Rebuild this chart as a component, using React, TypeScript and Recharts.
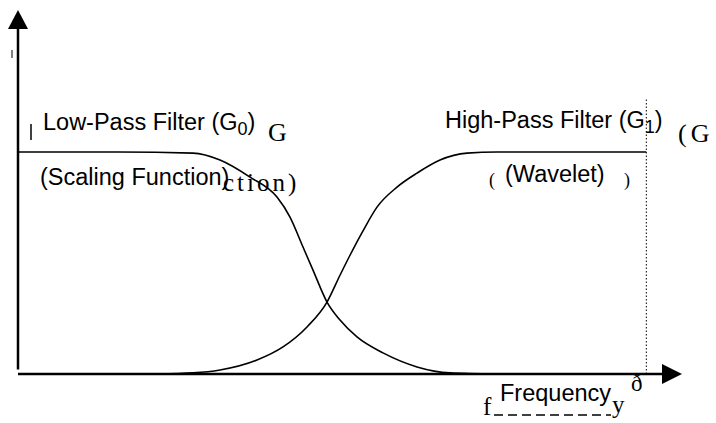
import React from 'react';
import { LineChart, Line, XAxis, YAxis, ReferenceLine, ReferenceDot } from 'recharts';

// normalised frequency (π = Nyquist) and filter gain
const lowFreq = [0, 0.5, 0.875, 1.01, 1.16, 1.295, 1.36, 1.425, 1.475, 1.545, 1.61, 1.695, 1.825, 1.995, 2.16, 2.395];
const lowGain = [1, 1, 0.995, 0.964, 0.887, 0.797, 0.707, 0.572, 0.468, 0.324, 0.243, 0.167, 0.095, 0.032, 0.005, 0];

const highFreq = [0.695, 0.875, 1.01, 1.195, 1.325, 1.445, 1.545, 1.61, 1.66, 1.725, 1.795, 1.895, 1.995, 2.11, 2.245, 2.395, 3.1416];
const highGain = [0, 0.005, 0.018, 0.063, 0.122, 0.212, 0.324, 0.445, 0.535, 0.645, 0.752, 0.842, 0.905, 0.964, 0.995, 1, 1];

const X_MAX = 3.32;
const Y_MAX = 1.64;
const NYQUIST = Math.PI;
const CUTOFF_TOP = 1.24;

const lowPass = lowFreq.map((f, i) => ({ f, g: lowGain[i] }));
const highPass = highFreq.map((f, i) => ({ f, g: highGain[i] }));

const SANS = '"Liberation Sans", Arial, sans-serif';
const SERIF = '"Liberation Serif", "Times New Roman", serif';

const UpArrow = ({ cx, cy }: any) => (
  <polygon points={`${cx},${cy} ${cx - 10},${cy + 19} ${cx + 10},${cy + 19}`} fill="#000" />
);
const RightArrow = ({ cx, cy }: any) => (
  <polygon points={`${cx},${cy} ${cx - 20},${cy - 10} ${cx - 20},${cy + 10}`} fill="#000" />
);

export default function App() {
  return (
    <div style={{ position: 'absolute', left: 0, top: 0, width: 716, height: 423, background: '#fff' }}>
      <LineChart width={716} height={423} margin={{ top: 10, right: 34, bottom: 49, left: 18 }}>
        <XAxis type="number" dataKey="f" domain={[0, X_MAX]} allowDataOverflow hide />
        <YAxis type="number" domain={[0, Y_MAX]} allowDataOverflow hide />
        {/* axes */}
        <ReferenceLine segment={[{ x: 0, y: 0.02 }, { x: 0, y: Y_MAX - 0.06 }]} stroke="#000" strokeWidth={2.5} />
        <ReferenceLine segment={[{ x: 0, y: 0 }, { x: X_MAX - 0.05, y: 0 }]} stroke="#000" strokeWidth={2.5} ifOverflow="visible" />
        <ReferenceLine
          segment={[{ x: NYQUIST, y: 0 }, { x: NYQUIST, y: CUTOFF_TOP }]}
          stroke="#000"
          strokeWidth={1}
          strokeDasharray="1.5 2"
        />
        <Line data={lowPass} dataKey="g" type="monotone" stroke="#000" strokeWidth={1.6} dot={false} isAnimationActive={false} />
        <Line data={highPass} dataKey="g" type="monotone" stroke="#000" strokeWidth={1.6} dot={false} isAnimationActive={false} />
        <ReferenceDot x={0} y={Y_MAX} r={0} shape={UpArrow} />
        <ReferenceDot x={X_MAX} y={0} r={0} shape={RightArrow} />
      </LineChart>

      <svg width={716} height={423} style={{ position: 'absolute', left: 0, top: 0, pointerEvents: 'none' }}>
        {/* serif fragments peeking out from behind the sans labels */}
        <g fontFamily={SERIF} fill="#000">
          <text x={268} y={141} fontSize={26}>G</text>
          <text x={223} y={191} fontSize={25} letterSpacing={3}>ction)</text>
          <text x={678} y={142} fontSize={26} letterSpacing={4}>(G</text>
          <text x={489} y={186} fontSize={18}>(</text>
          <text x={624} y={186} fontSize={18}>)</text>
          <text x={483} y={415} fontSize={25}>f</text>
          <text x={612} y={413} fontSize={25}>y</text>
          <text x={631} y={391} fontSize={23}>ð</text>
        </g>
        <line x1={494} y1={415} x2={611} y2={415} stroke="#000" strokeWidth={1.3} strokeDasharray="9 5" />
        <g fontFamily={SANS} fontSize={23.5} fill="#000">
          <text x={43} y={130}>
            Low-Pass Filter (G<tspan fontSize={18} dy={5}>0</tspan><tspan dy={-5}>)</tspan>
          </text>
          <text x={40} y={185}>(Scaling Function)</text>
          <text x={445} y={128}>
            High-Pass Filter (G<tspan fontSize={18} dy={5}>1</tspan><tspan dy={-5}>)</tspan>
          </text>
          <text x={505} y={182}>(Wavelet)</text>
          <text x={500} y={401}>Frequency</text>
        </g>
        <line x1={12} y1={50} x2={12} y2={58} stroke="#000" strokeWidth={1} />
        <line x1={31} y1={124} x2={31} y2={140} stroke="#000" strokeWidth={1.5} />
      </svg>
    </div>
  );
}
